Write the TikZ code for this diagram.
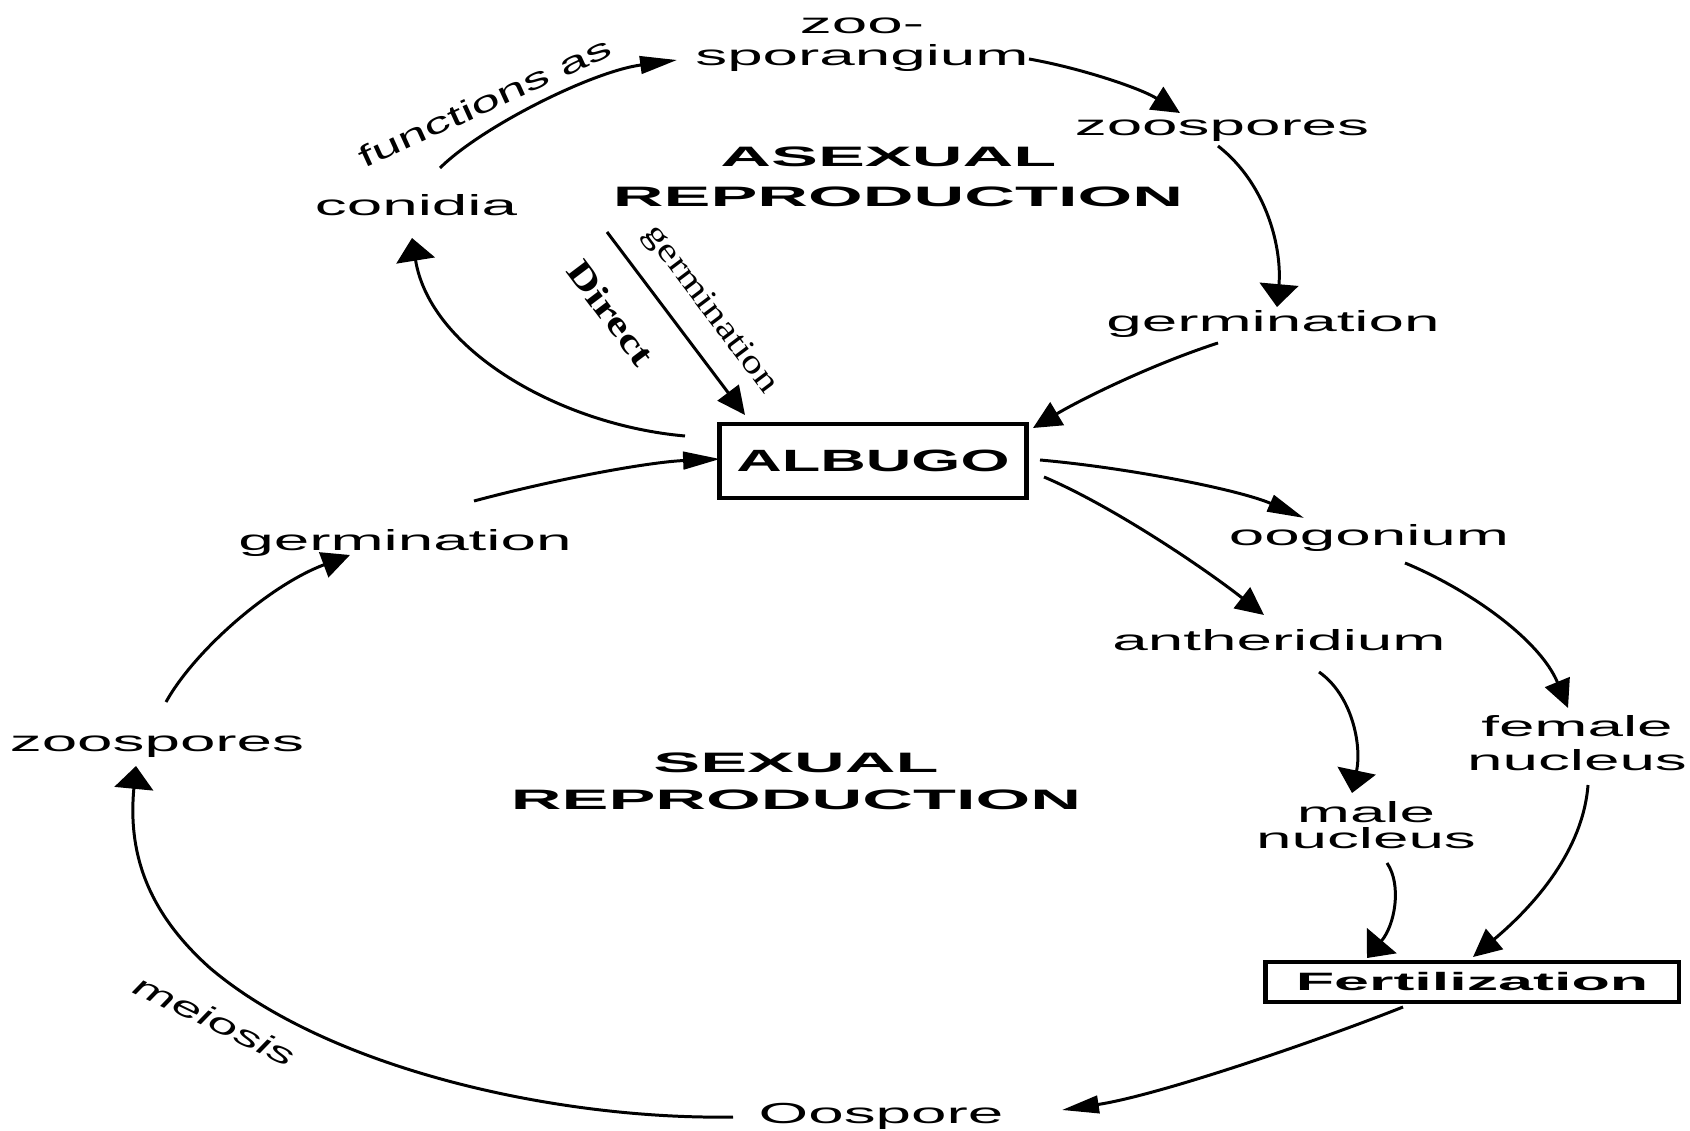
\documentclass[tikz,border=0pt]{standalone}
\usepackage{fontspec}
\setmainfont{Liberation Sans}
\newfontfamily\fR[FakeStretch=2.2]{Liberation Sans}
\newfontfamily\fH[FakeStretch=2.5]{Liberation Sans}
\newfontfamily\fA[FakeStretch=2.05]{Liberation Sans}
\newfontfamily\fF[FakeStretch=2.5]{Liberation Sans}
\newfontfamily\fRot[FakeStretch=1.72]{Liberation Sans}
\newfontfamily\fSa[FakeStretch=1.25]{Liberation Serif}
\newfontfamily\fSb[FakeStretch=1.3]{Liberation Serif}
\usetikzlibrary{arrows.meta,calc}
\tikzset{
  lbl/.style={inner sep=0pt, align=center, font=\fR\fontsize{16.5}{18.2}\selectfont},
  hdr/.style={inner sep=0pt, align=center, font=\fH\bfseries\fontsize{16}{22.8}\selectfont},
  boxA/.style={draw, line width=2.8pt, inner sep=0pt, minimum width=6.14cm, minimum height=1.48cm,
    font=\fA\bfseries\fontsize{17.5}{20}\selectfont},
  boxF/.style={draw, line width=2.8pt, inner sep=0pt, minimum width=8.28cm, minimum height=0.8cm,
    font=\fF\bfseries\fontsize{14.3}{16}\selectfont},
  rlbl/.style={inner sep=0pt, font=\fRot\fontsize{17}{17}\selectfont},
  conn/.style={line width=1.7pt},
  tipV/.style={-{Triangle[length=13pt,width=22pt]}},
  tipH/.style={-{Triangle[length=21pt,width=10pt]}},
  tipD/.style={-{Triangle[length=16pt,width=15pt]}}
}
\begin{document}
\begin{tikzpicture}[x=0.02cm,y=-0.02cm]
\useasboundingbox (0,0) rectangle (1690,1131);

% text nodes
\node[lbl] (spor) at (862,45) {zoo-\\sporangium};
\node[lbl] (zR) at (1222,131) {zoospores};
\node[hdr] (asex) at (898,177) {ASEXUAL\hspace*{11pt}\\REPRODUCTION};
\node[lbl] (conidia) at (416,205) {conidia};
\node[lbl] (germR) at (1273,324) {germination};
\node[boxA] (albugo) at (873,461) {ALBUGO};
\node[lbl] (germL) at (405,543) {germination};
\node[lbl] (oog) at (1369,538) {oogonium};
\node[lbl] (anth) at (1279,640) {antheridium};
\node[lbl, font=\fR\fontsize{16.5}{19.3}\selectfont] (female) at (1577,743) {female\\nucleus};
\node[lbl, font=\fR\fontsize{16.5}{15}\selectfont] (male) at (1366,825) {male\\nucleus};
\node[lbl] (zL) at (157,747) {zoospores};
\node[hdr, font=\fH\bfseries\fontsize{16}{21}\selectfont] (sex) at (796,781) {SEXUAL\\REPRODUCTION};
\node[boxF] (fert) at (1472,982) {Fertilization};
\node[lbl] (oosp) at (881,1116) {Oospore};

% rotated labels
\node[rlbl, rotate=24.5] (funcas) at (485,102) {functions as};
\node[rlbl, rotate=-25.6, font=\fRot\itshape\fontsize{17}{17}\selectfont] (meiosis) at (215,1020) {meiosis};
\node[rlbl, rotate=-53, font=\fSb\bfseries\fontsize{20}{20}\selectfont] (direct) at (611,313) {Direct};
\node[rlbl, rotate=-53, font=\fSa\fontsize{19}{19}\selectfont] (germD) at (710,310) {germination};

% connectors - asexual cycle
\draw[conn,tipH] ($(conidia)+(24,-37)$) .. controls (480,128) and (590,72) .. ($(spor)+(-185,15)$);
\draw[conn,tipD] ($(spor)+(167,14)$) .. controls (1080,68) and (1140,88) .. ($(zR)+(-42,-18)$);
\draw[conn,tipV] ($(zR)+(-4,15)$) .. controls (1268,185) and (1282,250) .. ($(germR)+(4,-17)$);
\draw[conn,tipD] ($(germR)+(-55,19)$) .. controls (1150,365) and (1080,400) .. ($(albugo)+(160,-33)$);
\draw[conn,tipV] ($(albugo)+(-188,-25)$) .. controls (560,425) and (430,350) .. ($(conidia)+(-4,33)$);
\draw[conn,tipD] ($(albugo)+(-266,-229)$) -- ($(albugo)+(-128,-46)$);

% sexual cycle
\draw[conn,tipH] ($(germL)+(69,-42)$) .. controls (560,478) and (650,462) .. ($(albugo)+(-153,-2)$);
\draw[conn,tipH] ($(albugo)+(167,-1)$) .. controls (1130,468) and (1240,490) .. ($(oog)+(-65,-20)$);
\draw[conn,tipD] ($(albugo)+(171,16)$) .. controls (1110,505) and (1200,565) .. ($(anth)+(-15,-25)$);
\draw[conn,tipD] ($(oog)+(36,25)$) .. controls (1470,590) and (1540,640) .. ($(female)+(-9,-35)$);
\draw[conn,tipV] ($(anth)+(40,32)$) .. controls (1352,695) and (1362,745) .. ($(male)+(-14,-32)$);
\draw[conn,tipV] ($(male)+(21,38)$) .. controls (1402,885) and (1395,925) .. ($(fert)+(-105,-24)$);
\draw[conn,tipD] ($(female)+(11,42)$) .. controls (1583,850) and (1535,905) .. ($(fert)+(1,-25)$);
\draw[conn,tipH] ($(fert)+(-69,25)$) .. controls (1320,1040) and (1160,1095) .. ($(oosp)+(181,-6)$);
\coordinate (mbend) at (210,968);
\draw[conn,tipV] ($(oosp)+(-148,1)$) .. controls (560,1120) and (330,1070) .. (mbend)
  .. controls (145,910) and (128,850) .. ($(zL)+(-21,19)$);
\draw[conn,tipD] ($(zL)+(9,-45)$) .. controls (195,650) and (270,585) .. ($(germL)+(-55,12)$);
\end{tikzpicture}
\end{document}
